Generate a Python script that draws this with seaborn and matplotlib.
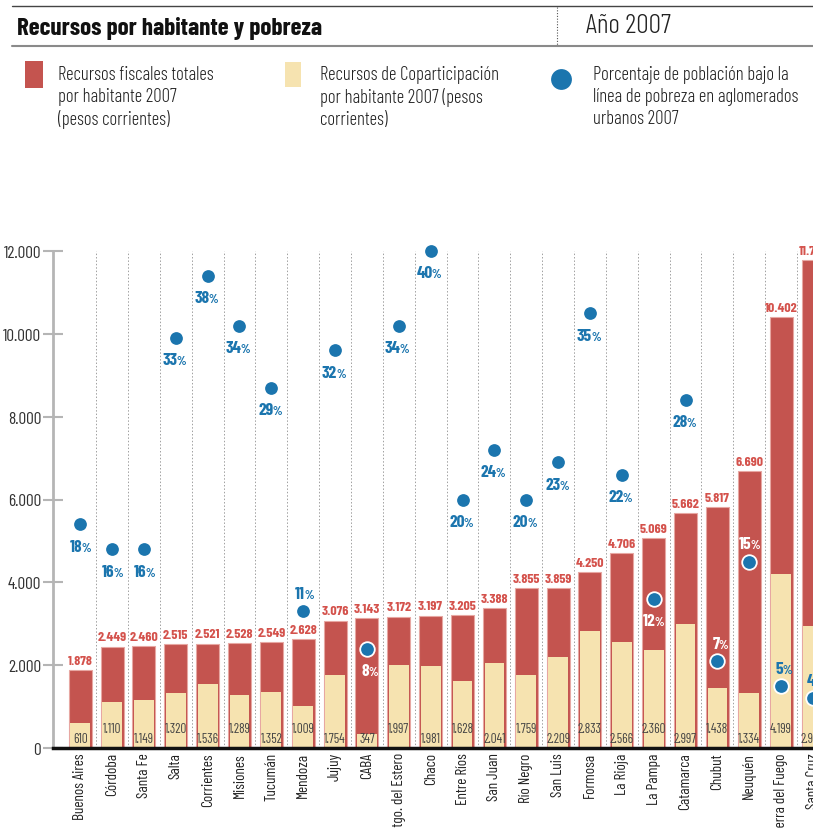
import matplotlib
matplotlib.use("Agg")
import matplotlib.pyplot as plt
from matplotlib.lines import Line2D
from matplotlib.patches import Rectangle
import seaborn as sns
import pandas as pd

provincias = ["Buenos Aires", "Córdoba", "Santa Fe", "Salta", "Corrientes", "Misiones",
              "Tucumán", "Mendoza", "Jujuy", "CABA", "Stgo. del Estero", "Chaco",
              "Entre Ríos", "San Juan", "Río Negro", "San Luis", "Formosa", "La Rioja",
              "La Pampa", "Catamarca", "Chubut", "Neuquén", "Tierra del Fuego", "Santa Cruz"]
recursos_totales = [1878, 2449, 2460, 2515, 2521, 2528, 2549, 2628, 3076, 3143, 3172, 3197,
                    3205, 3388, 3855, 3859, 4250, 4706, 5069, 5662, 5817, 6690, 10402, 11780]
coparticipacion = [610, 1110, 1149, 1320, 1536, 1289, 1352, 1009, 1754, 347, 1997, 1981,
                   1628, 2041, 1759, 2209, 2833, 2566, 2360, 2997, 1438, 1334, 4199, 2950]
pobreza = [18, 16, 16, 33, 38, 34, 29, 11, 32, 8, 34, 40, 20, 24, 20, 23, 35, 22, 12, 28,
           7, 15, 5, 4]
y_ticks = [0, 2000, 4000, 6000, 8000, 10000, 12000]

# styling helpers
label_above = {"Mendoza", "Chubut", "Neuquén", "Tierra del Fuego", "Santa Cruz"}
label_white = {"CABA", "La Pampa", "Chubut", "Neuquén"}
copa_low = {"Buenos Aires", "Santa Fe", "Corrientes", "Tucumán", "Jujuy", "CABA", "Chaco",
            "San Juan", "San Luis", "La Rioja", "Catamarca", "Neuquén", "Santa Cruz"}

RED = "#c4544f"
RED_EDGE = "#e7a7a2"
RED_TXT = "#d4524c"
CREAM = "#f6e3b0"
BLUE = "#1b75ae"

df = pd.DataFrame({"provincia": provincias, "total": recursos_totales,
                   "copa": coparticipacion, "pobreza": pobreza})

sns.set_theme(style="white")
FONT = ["Barlow Condensed", "DejaVu Sans"]
plt.rcParams["font.family"] = FONT

W, H = 813, 829
fig = plt.figure(figsize=(W / 100, H / 100), dpi=100)
fx = lambda x: x / W
fy = lambda y: 1 - y / H

ax = fig.add_axes([fx(53), fy(749), (W - 53) / W, 497 / H])

sns.barplot(data=df, x="provincia", y="total", color=RED, saturation=1, width=0.72,
            edgecolor=RED_EDGE, linewidth=0.8, ax=ax, zorder=2)
sns.barplot(data=df, x="provincia", y="copa", color=CREAM, saturation=1, width=0.62,
            linewidth=0, ax=ax, zorder=3)

ax2 = ax.twinx()
sns.stripplot(data=df, x="provincia", y="pobreza", jitter=False, color=BLUE, size=10.5,
              edgecolor="white", linewidth=1.3, ax=ax2, zorder=5)
for c in ax2.collections:
    c.set_clip_on(False)

n = len(provincias)
XL = (-0.853, 22.97)
ax.set_xlim(*XL)
ax.set_ylim(0, 12000)
ax2.set_ylim(0, 40)
ax2.set_xlim(*XL)
ax2.axis("off")

# dotted separators
for i in range(n - 1):
    ax.plot([i + 0.5, i + 0.5], [0, 12000], color="#a0a0a0", lw=0.7,
            linestyle=(0, (1.5, 2)), zorder=1, clip_on=False)

ax.set_xlabel("")
ax.set_ylabel("")
ax.set_yticks(y_ticks)
ax.set_yticklabels([f"{v:,}".replace(",", ".") for v in y_ticks], fontsize=12.5,
                   color="#333", fontweight=400)
ax.tick_params(axis="y", direction="inout", length=15, width=1.5, color="#b5b5b5", pad=1, left=True)
ax.set_xticks(range(n))
ax.set_xticklabels(provincias, rotation=90, fontsize=11, color="#222", va="top", ha="center",
                   fontweight=400)
ax.tick_params(axis="x", length=0, pad=3)
for s in ["top", "right"]:
    ax.spines[s].set_visible(False)
ax.spines["left"].set_color("#b5b5b5")
ax.spines["left"].set_linewidth(2)
ax.spines["bottom"].set_color("#111")
ax.spines["bottom"].set_linewidth(2.5)
ax.spines["bottom"].set_zorder(6)

fmt = lambda v: f"{v:,}".replace(",", ".")
for i, row in df.iterrows():
    ax.annotate(fmt(row.total), (i, row.total), xytext=(0, 3), textcoords="offset points",
                ha="center", va="bottom", fontsize=10, fontweight="bold", color=RED_TXT,
                zorder=7, annotation_clip=False)
    dy = 2 if row.provincia in copa_low else 9
    ax.annotate(fmt(row.copa), (i, 0), xytext=(0, dy), textcoords="offset points",
                ha="center", va="bottom", fontsize=9.5, color="#444", zorder=7,
                annotation_clip=False)
    col = "white" if row.provincia in label_white else BLUE
    oy = 9.5 if row.provincia in label_above else -19
    ax2.annotate(str(row.pobreza), (i, row.pobreza), xytext=(1.5, oy), textcoords="offset points",
                 ha="right", va="baseline", fontsize=12.5, fontweight="bold", color=col,
                 zorder=8, annotation_clip=False)
    ax2.annotate("%", (i, row.pobreza), xytext=(0.8, oy), textcoords="offset points",
                 ha="left", va="baseline", fontsize=9, fontweight="bold", color=col,
                 zorder=8, annotation_clip=False)

# header
fig.add_artist(Line2D([fx(12), 1], [fy(7), fy(7)], color="#444", lw=1))
fig.add_artist(Line2D([fx(12), 1], [fy(47), fy(47)], color="#8a8a8a", lw=1.5))
fig.add_artist(Line2D([fx(557), fx(557)], [fy(8), fy(46)], color="#555", lw=0.8,
                      linestyle=(0, (1, 1.5))))
fig.text(fx(17), fy(28), "Recursos por habitante y pobreza", fontsize=18, fontweight="bold",
         color="#111", va="center", ha="left")
fig.text(fx(586), fy(26), "Año 2007", fontsize=20, color="#222", va="center", ha="left",
         fontweight=300)

# legend
fig.add_artist(Rectangle((fx(25), fy(89)), 18 / W, 27 / H, transform=fig.transFigure,
                         facecolor=RED, edgecolor="none"))
fig.add_artist(Rectangle((fx(285), fy(88)), 16 / W, 25 / H, transform=fig.transFigure,
                         facecolor=CREAM, edgecolor="none"))
fig.add_artist(Line2D([fx(561)], [fy(80)], marker="o", markersize=15, color=BLUE,
                      markeredgewidth=0, transform=fig.transFigure))
leg_kw = dict(fontsize=13.5, color="#222", va="top", ha="left", linespacing=1.27, fontweight=300)
fig.text(fx(58), fy(66), "Recursos fiscales totales\npor habitante 2007\n(pesos corrientes)", **leg_kw)
fig.text(fx(320), fy(66), "Recursos de Coparticipación\npor habitante 2007 (pesos\ncorrientes)", **leg_kw)
fig.text(fx(593), fy(66), "Porcentaje de población bajo la\nlínea de pobreza en aglomerados\nurbanos 2007", **leg_kw)

fig.savefig("out.png", dpi=100)
